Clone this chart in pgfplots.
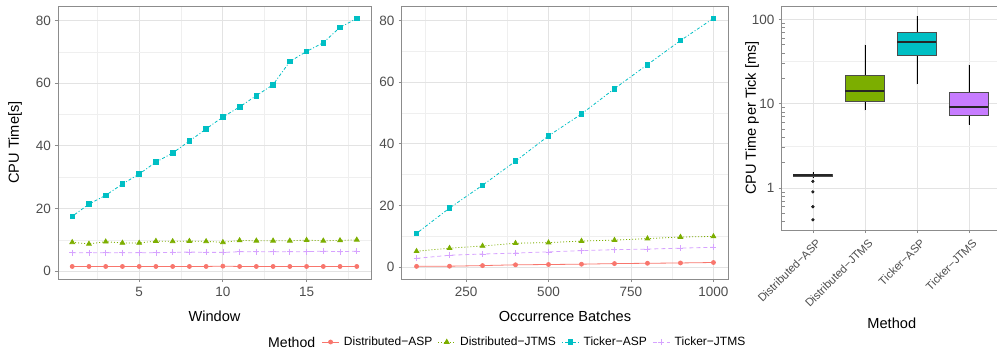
\documentclass[border=0pt]{standalone}
\usepackage{pgfplots}
\pgfplotsset{compat=1.18}
\usepgfplotslibrary{statistics}
\usepackage{fontspec}
\setmainfont{Liberation Sans}
\definecolor{cR}{HTML}{F8766D}
\definecolor{cG}{HTML}{7CAE00}
\definecolor{cC}{HTML}{00BFC4}
\definecolor{cP}{HTML}{C77CFF}
\definecolor{cPl}{HTML}{D6A3FF}
\definecolor{tickgray}{HTML}{4D4D4D}
\definecolor{bordergray}{HTML}{8C8C8C}
\definecolor{gridmaj}{HTML}{E3E3E3}
\definecolor{gridmin}{HTML}{EFEFEF}
\pgfplotsset{
  base/.style={
    scale only axis,
    anchor=north west,
    axis line style={bordergray, line width=1pt},
    tick align=outside,
    major tick length=3pt,
    minor tick length=0pt,
    tick style={bordergray, line width=0.8pt},
    xtick pos=bottom, ytick pos=left,
    grid=both,
    major grid style={gridmaj, line width=0.8pt},
    minor grid style={gridmin, line width=0.5pt},
    tick label style={font=\fontsize{13.5}{13.5}\selectfont, color=tickgray},
    /pgf/number format/assume math mode=true,
    /pgf/number format/1000 sep={},
    yticklabel style={inner sep=0pt, xshift=-4pt},
    xticklabel style={inner sep=0pt, yshift=-5pt},
    label style={font=\fontsize{14.6}{14.6}\selectfont},
    clip=false,
  },
  sDA/.style={cR, line width=0.8pt, solid, mark=*, mark size=2pt, mark options={solid, fill=cR}},
  sDJ/.style={cG, line width=0.8pt, dash pattern=on 1pt off 2pt, mark=triangle*, mark size=2.7pt, mark options={solid, fill=cG}},
  sTA/.style={cC, line width=0.8pt, dash pattern=on 1pt off 2pt on 3pt off 2pt, mark=square*, mark size=2.3pt, mark options={solid, fill=cC}},
  sTJ/.style={cPl, line width=0.8pt, dash pattern=on 4pt off 3pt, mark=+, mark size=3pt, mark options={solid, line width=0.7pt}},
}
\begin{document}
\begin{tikzpicture}
\path[use as bounding box] (0,0) rectangle (997pt,-354pt);
% Panel 1
\begin{axis}[base, at={(58pt,-6pt)}, width=313pt, height=273pt,
  xmin=0.15, xmax=18.85, ymin=-2.5, ymax=84.6,
  xtick={5,10,15}, minor xtick={2.5,7.5,12.5,17.5},
  ytick={0,20,40,60,80}, minor ytick={10,30,50,70},
  xlabel={Window}, ylabel={CPU Time[s]},
  xlabel style={at={(axis description cs:0.5,-0.1355)}, anchor=center},
  ylabel style={at={(axis description cs:-0.1374,0.5)}, anchor=center},
]
\addplot[sDA] coordinates {(1,1.5)(2,1.5)(3,1.5)(4,1.5)(5,1.5)(6,1.5)(7,1.5)(8,1.5)(9,1.5)(10,1.6)(11,1.5)(12,1.5)(13,1.5)(14,1.5)(15,1.5)(16,1.5)(17,1.5)(18,1.5)};
\addplot[sDJ] coordinates {(1,9.2)(2,8.7)(3,9.4)(4,9.0)(5,9.0)(6,9.6)(7,9.5)(8,9.6)(9,9.5)(10,9.2)(11,9.8)(12,9.7)(13,9.7)(14,9.7)(15,9.9)(16,9.7)(17,9.8)(18,10.0)};
\addplot[sTA] coordinates {(1,17.5)(2,21.4)(3,24.2)(4,27.8)(5,31.0)(6,34.8)(7,37.7)(8,41.5)(9,45.4)(10,49.2)(11,52.4)(12,56.0)(13,59.5)(14,66.9)(15,70.1)(16,72.9)(17,77.8)(18,80.6)};
\addplot[sTJ] coordinates {(1,5.9)(2,5.9)(3,5.9)(4,5.9)(5,5.9)(6,5.9)(7,6.0)(8,6.1)(9,6.0)(10,6.0)(11,6.2)(12,6.2)(13,6.2)(14,6.2)(15,6.2)(16,6.4)(17,6.2)(18,6.4)};
\end{axis}
% Panel 2
\begin{axis}[base, at={(401.7pt,-6pt)}, width=326.6pt, height=273pt,
  xmin=55, xmax=1045, ymin=-3.8, ymax=84.7,
  xtick={250,500,750,1000}, minor xtick={125,375,625,875},
  ytick={0,20,40,60,80}, minor ytick={10,30,50,70},
  xlabel={Occurrence Batches},
  xlabel style={at={(axis description cs:0.5,-0.1355)}, anchor=center},
  legend columns=4,
  legend style={at={(axis description cs:-0.2456,-0.2308)}, anchor=west, draw=none, fill=none,
    font=\fontsize{12}{12}\selectfont, inner sep=0pt, column sep=4.5pt,
    /tikz/every even column/.append style={column sep=5.5pt},
    nodes={inner sep=0pt}},
  legend image code/.code={\draw[#1, mark repeat=2, mark phase=2] plot coordinates {(0pt,0pt) (8.5pt,0pt) (17pt,0pt)};},
]
\addplot[sDA] coordinates {(100,0.3)(200,0.35)(300,0.55)(400,0.8)(500,0.9)(600,1.0)(700,1.2)(800,1.3)(900,1.4)(1000,1.55)};
\addlegendentry{Distributed−ASP}
\addplot[sDJ] coordinates {(100,5.2)(200,6.2)(300,6.9)(400,7.8)(500,8.0)(600,8.5)(700,8.8)(800,9.3)(900,9.8)(1000,10.0)};
\addlegendentry{Distributed−JTMS}
\addplot[sTA] coordinates {(100,11.0)(200,19.2)(300,26.6)(400,34.4)(500,42.6)(600,49.7)(700,57.9)(800,65.7)(900,73.5)(1000,80.7)};
\addlegendentry{Ticker−ASP}
\addplot[sTJ] coordinates {(100,2.9)(200,3.9)(300,4.3)(400,4.6)(500,5.0)(600,5.4)(700,5.7)(800,5.9)(900,6.2)(1000,6.5)};
\addlegendentry{Ticker−JTMS}
\end{axis}
% Panel 3
\begin{axis}[base, at={(781.7pt,-6pt)}, width=218.4pt, height=224pt,
  ymode=log, xmin=0.4, xmax=4.6, ymin=0.318, ymax=144,
  grid=none, xmajorgrids, ymajorgrids,
  xtick={1,2,3,4},
  xticklabels={Distributed−ASP,Distributed−JTMS,Ticker−ASP,Ticker−JTMS},
  xticklabel style={rotate=45, anchor=north east, font=\fontsize{11.3}{11.3}\selectfont, inner sep=0pt, yshift=-2pt, xshift=2pt},
  ytick={1,10,100}, yticklabels={1,10,100},
  minor ytick={0.4,0.5,0.6,0.7,0.8,0.9,2,3,4,5,6,7,8,9,20,30,40,50,60,70,80,90},
  minor tick length=3pt,
  every minor tick/.append style={xshift=3pt, line width=0.6pt},
  extra y ticks={3.1623,31.623}, extra y tick labels={},
  extra y tick style={major tick length=0pt, ymajorgrids, major grid style={gridmin, line width=0.5pt}},
  xlabel={Method}, ylabel={CPU Time per Tick [ms]},
  xlabel style={at={(axis description cs:0.504,-0.415)}, anchor=center},
  ylabel style={at={(axis description cs:-0.136,0.5)}, anchor=center},
  boxplot/draw direction=y,
  boxplot/whisker extend=0,
  boxplot/every whisker/.style={black, line width=0.6pt},
  boxplot/every median/.style={black!85, line width=2pt},
  boxplot/every box/.style={draw=black!70, line width=0.6pt},
]
\addplot[boxplot prepared={draw position=1, lower whisker=1.30, lower quartile=1.36, median=1.42, upper quartile=1.47, upper whisker=1.53, box extend=0.75},
  fill=cR, draw=black!70, mark=*, mark size=1.4pt, mark options={black, fill=black!80}]
  table[row sep=\\, y index=0] {0.42\\0.60\\0.90\\1.20\\};
\addplot[boxplot prepared={draw position=2, lower whisker=8.35, lower quartile=10.7, median=14.0, upper quartile=21.7, upper whisker=50.3, box extend=0.75},
  fill=cG, draw=black!70] coordinates {};
\addplot[boxplot prepared={draw position=3, lower whisker=16.9, lower quartile=37.6, median=53.6, upper quartile=71.2, upper whisker=109, box extend=0.75},
  fill=cC, draw=black!70] coordinates {};
\addplot[boxplot prepared={draw position=4, lower whisker=5.65, lower quartile=7.2, median=9.06, upper quartile=13.7, upper whisker=29.1, box extend=0.75},
  fill=cP, draw=black!70] coordinates {};
\end{axis}
\node[anchor=west, inner sep=0pt, font=\fontsize{14.1}{14.1}\selectfont] at (268pt,-342pt) {Method};
\end{tikzpicture}
\end{document}
